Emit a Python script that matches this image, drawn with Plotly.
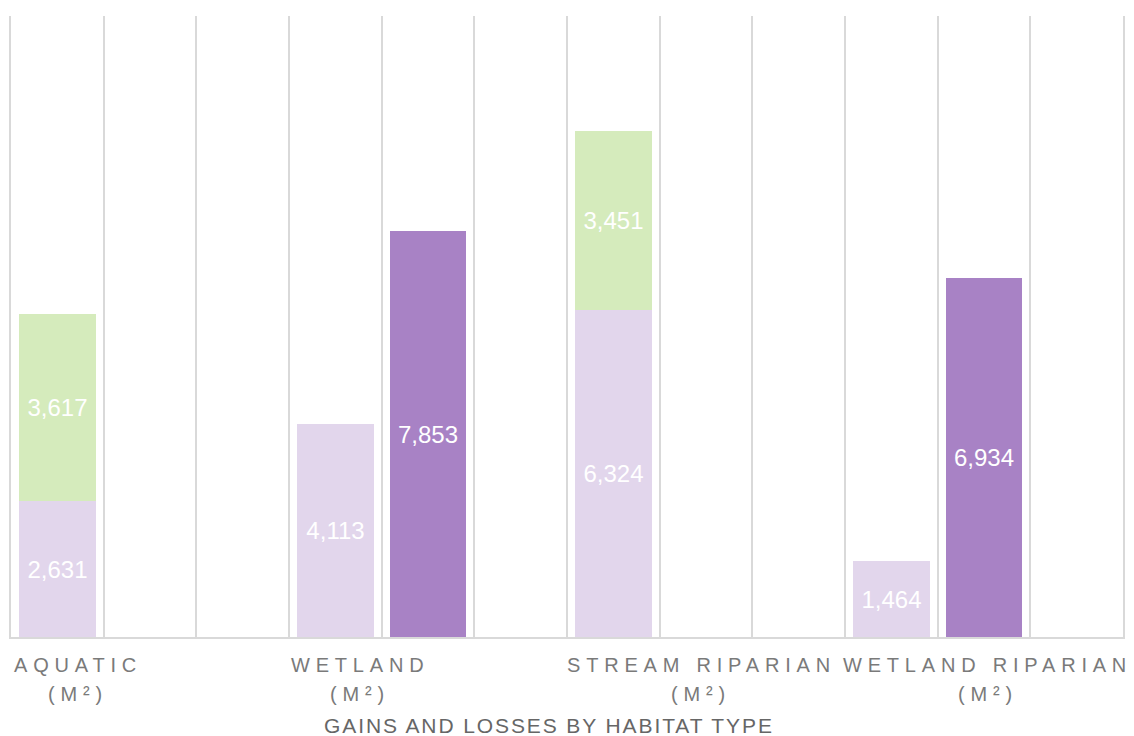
import plotly.graph_objects as go

# ---- data ----
categories = ["AQUATIC", "WETLAND", "STREAM RIPARIAN", "WETLAND RIPARIAN"]
units = ["(M²)", "(M²)", "(M²)", "(M²)"]
existing = [2631, 4113, 6324, 1464]          # light lavender (first column of each group)
gains = [3617, None, 3451, None]             # green, stacked on existing
totals = [None, 7853, None, 6934]            # purple (second column of each group)
axis_title = "GAINS AND LOSSES BY HABITAT TYPE"

SLOTS_PER_CAT = 3
n_slots = SLOTS_PER_CAT * len(categories)

def pos(i, sub):
    return SLOTS_PER_CAT * i + sub + 0.5

FONT = "Arial, 'Liberation Sans', sans-serif"
C_LAV = "#e2d6ec"
C_GREEN = "#d5ebbc"
C_PURPLE = "#a882c5"
GRID = "#d9d9d9"

fig = go.Figure()

def add_series(values, sub, color, name):
    xs = [pos(i, sub) for i, v in enumerate(values) if v is not None]
    ys = [v for v in values if v is not None]
    fig.add_trace(go.Bar(
        x=xs, y=ys, name=name, width=0.83,
        marker=dict(color=color, line=dict(width=0)),
        texttemplate="%{y:,}", textposition="inside",
        insidetextanchor="middle", textangle=0,
        textfont=dict(color="white", size=24, family=FONT),
        showlegend=False,
    ))

add_series(existing, 0, C_LAV, "Existing")
add_series(gains, 0, C_GREEN, "Gains")
add_series(totals, 1, C_PURPLE, "Total")

# category labels (letter-spaced, two lines)
label_offsets = [0.72, 0.77, 1.45, 1.54]  # horizontal offset of label centre within group
for i, (cat, unit) in enumerate(zip(categories, units)):
    xc = SLOTS_PER_CAT * i + label_offsets[i]
    fig.add_annotation(x=xc, xref="x", y=-0.045, yref="paper", yanchor="middle",
                       xanchor="center", showarrow=False,
                       text=f'<span style="letter-spacing:5.8px">{cat}</span>',
                       font=dict(size=20, color="#7a7a7a", family=FONT))
    fig.add_annotation(x=xc, xref="x", y=-0.092, yref="paper", yanchor="middle",
                       xanchor="center", showarrow=False,
                       text=f'<span style="letter-spacing:5.8px">{unit}</span>',
                       font=dict(size=20, color="#7a7a7a", family=FONT))

fig.add_annotation(x=0.4834, xref="paper", y=-0.142, yref="paper", yanchor="middle",
                   xanchor="center", showarrow=False,
                   text=f'<span style="letter-spacing:1.9px">{axis_title}</span>',
                   font=dict(size=21, color="#666666", family=FONT))

fig.update_layout(
    width=1134, height=736,
    margin=dict(l=11, r=9, t=16, b=99),
    barmode="stack",
    plot_bgcolor="white", paper_bgcolor="white",
    bargap=0,
    xaxis=dict(range=[0, n_slots], tickvals=list(range(n_slots + 1)),
               showticklabels=False, ticks="", showgrid=True,
               gridcolor=GRID, gridwidth=2, zeroline=False,
               showline=True, linecolor=GRID, linewidth=2),
    yaxis=dict(range=[0, 12000], showgrid=False, zeroline=False,
               showticklabels=False, ticks="",
               showline=True, mirror=True, linecolor=GRID, linewidth=2),
)

fig.write_html("out.html", config={"displayModeBar": False},
               post_script="document.body.style.margin='0px';document.body.style.overflow='hidden';")
